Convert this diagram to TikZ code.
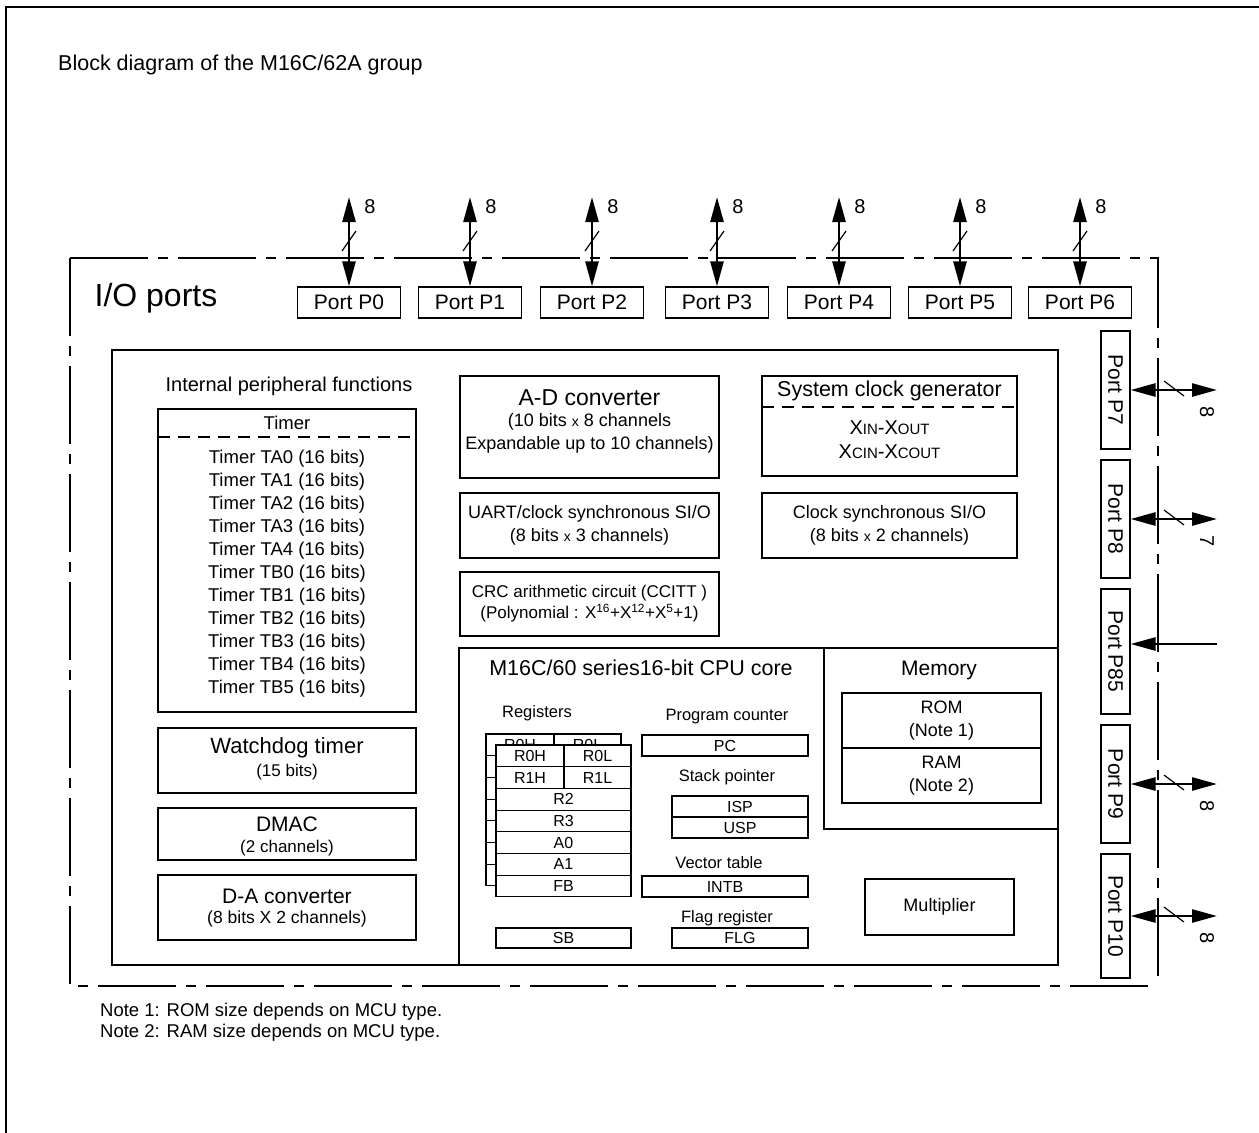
\documentclass[tikz,border=0pt]{standalone}
\usepackage{fontspec}
\setmainfont{Liberation Sans}
\usetikzlibrary{arrows.meta,positioning}

\newcommand{\fsz}[1]{\fontsize{#1}{#1}\selectfont}
\newcommand{\lowx}{{\fsz{14}x}}
\newcommand{\lowc}[1]{{\fsz{15}#1}}

\begin{document}
\begin{tikzpicture}[x=1pt,y=-1pt]
    % styles
    \tikzset{
        box/.style={draw, line width=1.1pt, inner sep=0pt},
        tbox/.style={box, align=center, font=\fontsize{18}{22.5}\selectfont},
        port/.style={box, minimum width=103pt, minimum height=31pt, font=\fsz{21}},
        vport/.style={box, rotate=-90, minimum height=29pt, font=\fsz{21}},
        bus/.style={line width=2.6pt, {Triangle[length=25pt,width=13pt]}-{Triangle[length=25pt,width=13pt]}},
        busin/.style={line width=2.6pt, -{Triangle[length=25pt,width=13pt]}},
        slash/.style={line width=1.2pt},
        txt/.style={inner sep=0pt, font=\fsz{18.5}},
        reg/.style={box, fill=white, minimum height=21.7pt, font=\fsz{16}},
        sep/.style={line width=1.1pt, dash pattern=on 12pt off 8pt},
        frame/.style={line width=1.3pt, dash pattern=on 78pt off 10pt on 10pt off 10pt},
    }
    \useasboundingbox (0,0) rectangle (1259,1133);

    % page frame and title
    \draw[line width=2.4pt] (6,1133) -- (6,7) -- (1259,7);
    \node[txt, anchor=west, font=\fsz{21.5}] (title) at (58,65) {Block diagram of the M16C/62A group};

    % I/O ports frame
    \draw[frame] (70,258) -- (1158,258) -- (1158,986);
    \draw[frame] (70,258) -- (70,986) -- (1158,986);
    \node[txt, font=\fsz{32}] (io) at (156,298) {I/O ports};

    % top ports
    \foreach \i/\x in {0/349,1/470,2/592,3/717,4/839,5/960,6/1080} {
        \node[port] (p\i) at (\x,302.5) {Port P\i};
        \coordinate (t\i) at (\x,197);
        \draw[bus] (t\i) -- (p\i.north);
        \draw[slash] (\x-7,251) -- (\x+7,231);
        \node[txt, font=\fsz{20}] (w\i) at (\x+21,207) {8};
    }

    % right ports
    \foreach \n/\y/\len/\bits in {7/390/118/8, 8/519/118/7, 9/784/118/8, 10/916/124/8} {
        \node[vport, minimum width=\len pt] (p\n) at (1115.5,\y) {Port P\n};
        \coordinate (r\n) at (1217,\y);
        \draw[bus] (p\n.north) -- (r\n);
        \draw[slash] (1164,\y-9) -- (1184,\y+6);
        \node[txt, font=\fsz{20}, rotate=-90] (w\n) at (1207,\y+22) {\bits};
    }
    \node[vport, minimum width=125pt] (p85) at (1115.5,651.5) {Port P85};
    \coordinate (r85) at (1217,644);
    \draw[busin] (r85) -- (r85 -| p85.north);

    % internal peripheral functions
    \node[box, minimum width=946pt, minimum height=615pt] (periph) at (585,657.5) {};
    \draw[line width=1.1pt] (459,965) -- (459,648) -- (1058,648);
    \draw[line width=1.1pt] (824,648) -- (824,829) -- (1058,829);
    \node[txt, font=\fsz{20}] (periphT) at (289,386) {Internal peripheral functions};

    % timers
    \node[box, minimum width=258pt, minimum height=303pt] (timer) at (287,560.5) {};
    \node[txt] (timerT) at (287,423) {Timer};
    \draw[sep] (158,437) -- (416,437);
    \foreach \t [count=\k from 0] in {TA0,TA1,TA2,TA3,TA4,TB0,TB1,TB2,TB3,TB4,TB5}
        \node[txt] (tm\t) at (287,459+23*\k) {Timer \t\ (16 bits)};

    \node[box, minimum width=258pt, minimum height=65pt] (wdt) at (287,760.5) {};
    \node[txt, font=\fsz{22}] (wdtT) at (287,748) {Watchdog timer};
    \node[txt, font=\fsz{17}] (wdtS) at (287,772) {(15 bits)};

    \node[box, minimum width=258pt, minimum height=52pt] (dmac) at (287,834) {};
    \node[txt, font=\fsz{21}] (dmacT) at (287,824) {DMAC};
    \node[txt, font=\fsz{17}] (dmacS) at (287,848) {(2 channels)};

    \node[box, minimum width=258pt, minimum height=65pt] (dac) at (287,907.5) {};
    \node[txt, font=\fsz{21}] (dacT) at (287,896) {D-A converter};
    \node[txt, font=\fsz{17.5}] (dacS) at (287,919) {(8 bits X 2 channels)};

    % converters and serial I/O
    \node[box, minimum width=259pt, minimum height=102pt] (adc) at (589.5,427) {};
    \node[txt, font=\fsz{23}] (adcT) at (589.5,398) {A-D converter};
    \node[txt, font=\fsz{18}] (adcS) at (589.5,422) {(10 bits \lowx\ 8 channels};
    \node[txt, font=\fsz{18}] (adcE) at (589.5,445) {Expandable up to 10 channels)};

    \node[box, minimum width=255pt, minimum height=100pt] (clk) at (889.5,426) {};
    \node[txt, font=\fsz{21.5}] (clkT) at (889.5,391) {System clock generator};
    \draw[sep] (762,407) -- (1017,407);
    \node[txt, font=\fsz{20}] (clkA) at (889.5,428) {X\lowc{IN}-X\lowc{OUT}};
    \node[txt, font=\fsz{20}] (clkB) at (889.5,452) {X\lowc{CIN}-X\lowc{COUT}};

    \node[tbox, minimum width=259pt, minimum height=65pt] (uart) at (589.5,525.5) {UART/clock synchronous SI/O\\(8 bits \lowx\ 3 channels)};
    \node[tbox, minimum width=255pt, minimum height=65pt] (csio) at (889.5,525.5) {Clock synchronous SI/O\\(8 bits \lowx\ 2 channels)};
    \node[tbox, minimum width=259pt, minimum height=64pt, font=\fontsize{17}{21}\selectfont] (crc) at (589.5,604)
        {CRC arithmetic circuit (CCITT )\\(Polynomial : X\textsuperscript{16}+X\textsuperscript{12}+X\textsuperscript{5}+1)};

    % CPU core and memory
    \node[txt, font=\fsz{21.5}] (cpuT) at (641,668) {M16C/60 series16-bit CPU core};
    \node[txt, font=\fsz{21}] (memT) at (939,670) {Memory};
    \node[tbox, minimum width=199pt, minimum height=55pt] (rom) at (941.5,720.5) {ROM\\(Note 1)};
    \node[tbox, minimum width=199pt, minimum height=55pt] (ram) at (941.5,775.5) {RAM\\(Note 2)};
    \node[tbox, minimum width=149pt, minimum height=56pt] (mult) at (939.5,907) {Multiplier};

    % registers (two banks)
    \node[txt, font=\fsz{16.5}] (regT) at (537,713) {Registers};
    \foreach \s/\dx/\dy in {b/-10/-11, f/0/0} {
        \begin{scope}[shift={(\dx,\dy)}]
            \node[reg, minimum width=68pt] (\s r0h) at (530,755.85) {R0H};
            \node[reg, minimum width=67pt] (\s r0l) at (597.5,755.85) {R0L};
            \node[reg, minimum width=68pt] (\s r1h) at (530,777.55) {R1H};
            \node[reg, minimum width=67pt] (\s r1l) at (597.5,777.55) {R1L};
            \foreach \r [count=\k from 2] in {R2,R3,A0,A1,FB}
                \node[reg, minimum width=135pt] (\s\r) at (563.5,755.85+21.7*\k) {\r};
        \end{scope}
    }
    \node[reg, minimum width=135pt, minimum height=20pt] (sb) at (563.5,938) {SB};

    \node[txt, font=\fsz{16.5}] (pcT) at (727,717) {Program counter};
    \node[reg, minimum width=166pt, minimum height=21pt] (pc) at (725,745.5) {PC};
    \node[txt, font=\fsz{16.5}] (spT) at (727,777) {Stack pointer};
    \node[reg, minimum width=136pt, minimum height=21pt] (isp) at (740,806.5) {ISP};
    \node[reg, minimum width=136pt, minimum height=21pt] (usp) at (740,827.5) {USP};
    \node[txt, font=\fsz{16.5}] (vtT) at (719,863) {Vector table};
    \node[reg, minimum width=166pt, minimum height=21pt] (intb) at (725,886.5) {INTB};
    \node[txt, font=\fsz{16.5}] (flgT) at (727,918) {Flag register};
    \node[reg, minimum width=136pt, minimum height=20pt] (flg) at (740,938) {FLG};

    % notes
    \node[txt, anchor=west, font=\fsz{18.5}] (note1) at (100,1012) {Note 1: ROM size depends on MCU type.};
    \node[txt, anchor=west, font=\fsz{18.5}] (note2) at (100,1033) {Note 2: RAM size depends on MCU type.};
\end{tikzpicture}
\end{document}
